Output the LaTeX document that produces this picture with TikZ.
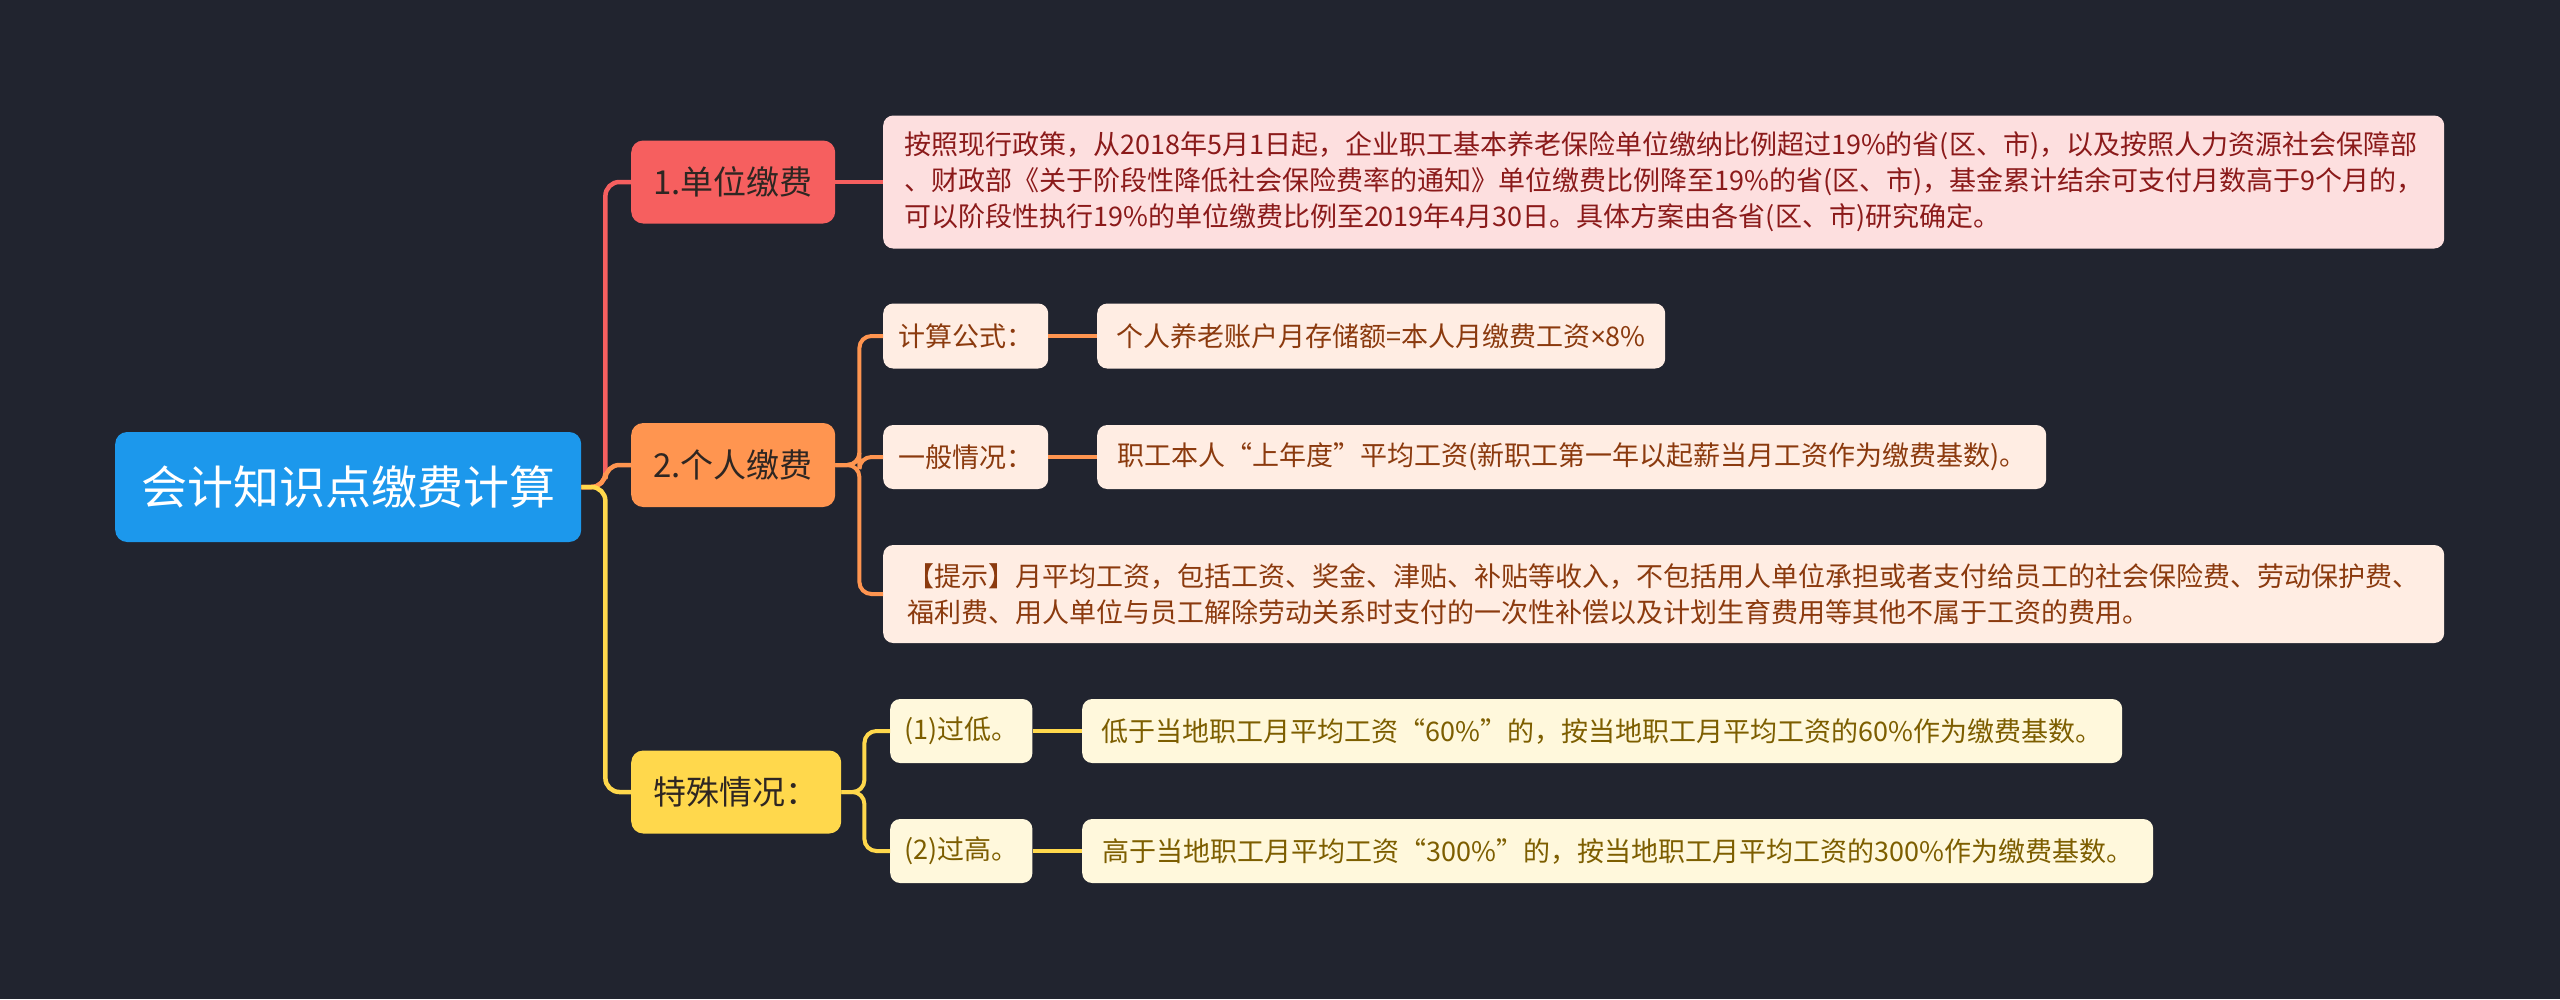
\documentclass[tikz,border=0pt]{standalone}
\usepackage{fontspec}
\setmainfont{Noto Sans CJK SC}
\newfontfamily\latinsans{Noto Sans}
\usetikzlibrary{positioning}
\definecolor{bgnavy}{HTML}{21242F}
\definecolor{rootblue}{HTML}{1C98EC}
\definecolor{redmain}{HTML}{F65F5F}
\definecolor{redleaf}{HTML}{FDDFDF}
\definecolor{redtext}{HTML}{8B1A1A}
\definecolor{orangemain}{HTML}{FF9550}
\definecolor{orangeleaf}{HTML}{FFEDE3}
\definecolor{orangetext}{HTML}{8B3A0E}
\definecolor{yellowmain}{HTML}{FFD84C}
\definecolor{yellowleaf}{HTML}{FFF8DC}
\definecolor{yellowtext}{HTML}{7D5E00}
\definecolor{topictext}{HTML}{2E2622}

\begin{document}
\begin{tikzpicture}[
    x=1pt, y=-1pt,
    rootbox/.style={fill=rootblue, rounded corners=12, text=white, anchor=west,
                    font=\fontsize{46}{56}\selectfont, minimum height=110, inner sep=0pt},
    topic/.style={rounded corners=12, anchor=west, text=topictext, inner sep=0pt,
                  font=\fontsize{33}{40}\selectfont, minimum height=83},
    leaf/.style={rounded corners=10, anchor=west, align=left, inner xsep=14pt, inner ysep=2pt,
                 font=\fontsize{27}{36}\selectfont, minimum height=64},
    redleafbox/.style={leaf, fill=redleaf, text=redtext},
    orleafbox/.style={leaf, fill=orangeleaf, text=orangetext},
    yeleafbox/.style={leaf, fill=yellowleaf, text=yellowtext},
    mainline/.style={line width=4.5pt, rounded corners=14},
    subline/.style={line width=4pt, rounded corners=12}
  ]

  % ===== canvas =====
  \fill[bgnavy] (0,0) rectangle (2560,999);

  % ===== root and first level =====
  \node[rootbox, minimum width=466] (root) at (115,487) {会计知识点缴费计算};
  \node[topic, fill=redmain, minimum width=204] (unitpay) at (631,182) {1.单位缴费};
  \node[topic, fill=orangemain, minimum width=204, minimum height=84] (selfpay) at (631,465) {2.个人缴费};
  \node[topic, fill=yellowmain, minimum width=210] (special) at (631,792) {特殊情况：};

  % ===== 1.单位缴费 =====
  \node[redleafbox, minimum width=1561, minimum height=133] (unitinfo) at (883,182) {%
    按照现行政策，从2018年5月1日起，企业职工基本养老保险单位缴纳比例超过19\%的省(区、市)，以及按照人力资源社会保障部\\
    、财政部《关于阶段性降低社会保险费率的通知》单位缴费比例降至19\%的省(区、市)，基金累计结余可支付月数高于9个月的，\\
    可以阶段性执行19\%的单位缴费比例至2019年4月30日。具体方案由各省(区、市)研究确定。};

  % ===== 2.个人缴费 =====
  \node[orleafbox, minimum width=165, minimum height=65] (formula) at (883,336) {计算公式：};
  \node[orleafbox, minimum width=568, minimum height=65] (formulatxt) at (1097,336) {个人养老账户月存储额=本人月缴费工资{\latinsans ×}8\%};
  \node[orleafbox, minimum width=165] (general) at (883,457) {一般情况：};
  \node[orleafbox, minimum width=949] (generaltxt) at (1097,457) {职工本人“上年度”平均工资(新职工第一年以起薪当月工资作为缴费基数)。};
  \node[orleafbox, minimum width=1561, minimum height=98] (tip) at (883,594) {%
    【提示】月平均工资，包括工资、奖金、津贴、补贴等收入，不包括用人单位承担或者支付给员工的社会保险费、劳动保护费、\\
    福利费、用人单位与员工解除劳动关系时支付的一次性补偿以及计划生育费用等其他不属于工资的费用。};

  % ===== 特殊情况 =====
  \node[yeleafbox, minimum width=142] (low) at (890,731) {(1)过低。};
  \node[yeleafbox, minimum width=1040] (lowtxt) at (1082,731) {低于当地职工月平均工资“60\%”的，按当地职工月平均工资的60\%作为缴费基数。};
  \node[yeleafbox, minimum width=142] (high) at (890,851) {(2)过高。};
  \node[yeleafbox, minimum width=1071] (hightxt) at (1082,851) {高于当地职工月平均工资“300\%”的，按当地职工月平均工资的300\%作为缴费基数。};

  % ===== connectors =====
  \draw[mainline, redmain] (root.east) -- ++(24,0) |- (unitpay.west);
  \draw[mainline, orangemain] (root.east) -- ++(24,0) |- (selfpay.west);
  \draw[mainline, yellowmain] (root.east) -- ++(24,0) |- (special.west);
  \draw[subline, redmain] (unitpay.east) -- (unitinfo.west);

  \draw[subline, orangemain] (selfpay.east) -- ++(24,0) |- (formula.west);
  \draw[subline, orangemain] (selfpay.east) -- ++(24,0) |- (general.west);
  \draw[subline, orangemain] (selfpay.east) -- ++(24,0) |- (tip.west);
  \draw[subline, orangemain] (formula.east) -- (formulatxt.west);
  \draw[subline, orangemain] (general.east) -- (generaltxt.west);

  \draw[subline, yellowmain] (special.east) -- ++(23,0) |- (low.west);
  \draw[subline, yellowmain] (special.east) -- ++(23,0) |- (high.west);
  \draw[subline, yellowmain] (low.east) -- (lowtxt.west);
  \draw[subline, yellowmain] (high.east) -- (hightxt.west);
\end{tikzpicture}
\end{document}
